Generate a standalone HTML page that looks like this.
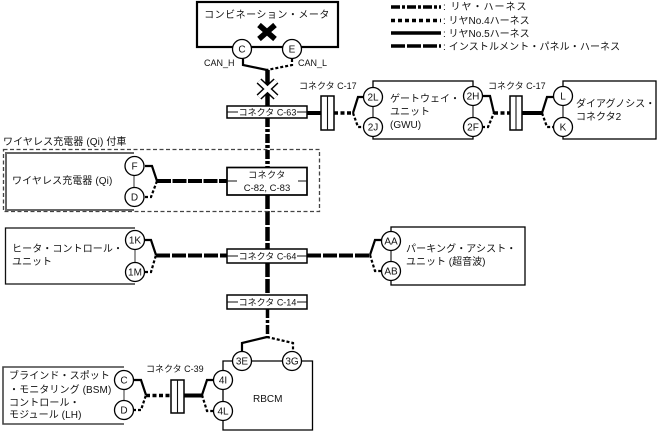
<!DOCTYPE html>
<html><head><meta charset="utf-8"><style>
html,body{margin:0;padding:0;background:#fff}
svg{display:block}
text{font-family:"Liberation Sans","Noto Sans CJK JP",sans-serif;font-size:10px;fill:#111}
.m{text-anchor:middle}
.s{font-size:9px}
.c{fill:#fff;stroke:#000;stroke-width:1.300}
.b{fill:#fff;stroke:#000;stroke-width:1.500}
.t{fill:none;stroke:#000;stroke-width:2.200}
.d{fill:none;stroke:#000;stroke-width:2.200;stroke-dasharray:3 2}
.g{stroke:#111;stroke-width:1.100;fill:none}
</style></head><body>
<svg width="658" height="432" viewBox="0 0 658 432" xmlns="http://www.w3.org/2000/svg">
<!-- legend -->
<g fill="none" stroke="#000" stroke-width="3.500">
<path d="M391 7H441" stroke-dasharray="9 2 3 2"/>
<path d="M391 20.500H441" stroke-dasharray="4 3"/>
<path d="M391 33H441"/>
<path d="M391 46H441" stroke-dasharray="14 2"/>
</g>
<text x="443" y="10" letter-spacing="1">: リヤ・ハーネス</text>
<text x="443" y="24">: リヤNo.4ハーネス</text>
<text x="443" y="37">: リヤNo.5ハーネス</text>
<text x="443" y="50" letter-spacing="0.100">: インストルメント・パネル・ハーネス</text>

<!-- meter -->
<rect x="197" y="2" width="141" height="45" fill="#fff" stroke="#000" stroke-width="2.200"/>
<text x="267" y="18" class="m" letter-spacing="0.500">コンビネーション・メータ</text>
<path d="M259 25L275 39M275 25L259 39" stroke="#000" stroke-width="5.500" fill="none"/>
<path class="t" d="M243 59L243 65L267 70"/>
<path class="d" d="M292 59L292 65L267 70"/>
<circle class="c" cx="242" cy="49" r="9.500"/><text x="242" y="52.500" class="m">C</text>
<circle class="c" cx="292" cy="49" r="9.500"/><text x="292" y="52.500" class="m">E</text>
<text x="204" y="66" class="s">CAN_H</text><text x="298" y="66" class="s">CAN_L</text>

<!-- main vertical -->
<path d="M267.500 70V106" stroke="#000" stroke-width="4.500" fill="none"/>
<path d="M267.500 118V168" stroke="#000" stroke-width="4.500" stroke-dasharray="9 2 3 2" fill="none"/>
<path d="M267.500 195V249" stroke="#000" stroke-width="4.500" stroke-dasharray="14 2" fill="none"/>
<path d="M267.500 263V295" stroke="#000" stroke-width="4.500" stroke-dasharray="14 2" fill="none"/>
<path d="M267.500 309V337" stroke="#000" stroke-width="3.500" stroke-dasharray="9 2 3 2" fill="none"/>
<path d="M259 81L276 97M276 81L259 97" stroke="#000" stroke-width="7" fill="none"/>
<path d="M259 81L276 97M276 81L259 97" stroke="#fff" stroke-width="4" fill="none"/>

<!-- C-63 -->
<rect class="b" x="227" y="106" width="80" height="12"/>
<path class="g" d="M227 112H238M297 112H307"/>
<text x="267.500" y="115.500" class="m s">コネクタ C-63</text>
<path d="M307 113H321" stroke="#000" stroke-width="4" fill="none"/>
<rect class="b" x="321" y="96" width="13" height="34"/><path class="g" d="M327.500 96V130"/>
<path d="M334 113H353" stroke="#000" stroke-width="3.500" stroke-dasharray="4 2.500" fill="none"/>
<text x="299" y="89" class="s">コネクタ C-17</text>
<path class="t" d="M353 113L358 97H364"/>
<path class="d" d="M353 113L358 127H364"/>

<!-- gateway -->
<rect x="373" y="81" width="100" height="58" fill="#fff" stroke="#000" stroke-width="1.300"/>
<path d="M373 96V127M473 96V127" stroke="#555" stroke-width="1.200"/>
<circle class="c" cx="373" cy="97" r="9.500"/><text x="373" y="100.500" class="m">2L</text>
<circle class="c" cx="373" cy="127" r="9.500"/><text x="373" y="130.500" class="m">2J</text>
<circle class="c" cx="473" cy="96" r="9.500"/><text x="473" y="99.500" class="m">2H</text>
<circle class="c" cx="473" cy="127" r="9.500"/><text x="473" y="130.500" class="m">2F</text>
<text x="390" y="102">ゲートウェイ・</text><text x="390" y="115">ユニット</text><text x="390" y="128">(GWU)</text>
<path class="t" d="M482 96H490L494 113"/>
<path class="d" d="M482 127H488L494 113"/>
<path d="M494 113H510" stroke="#000" stroke-width="3.500" stroke-dasharray="4 2.500" fill="none"/>
<text x="488" y="89" class="s">コネクタ C-17</text>
<rect class="b" x="510" y="96" width="12" height="34"/><path class="g" d="M516 96V130"/>
<path d="M522 113H542" stroke="#000" stroke-width="4" fill="none"/>
<path class="t" d="M542 113L547 97H554"/>
<path class="d" d="M542 113L547 127H554"/>

<!-- diag -->
<rect x="563" y="81" width="93" height="58" fill="#fff" stroke="#000" stroke-width="1.300"/>
<path d="M563 96V127" stroke="#555" stroke-width="1.200"/>
<circle class="c" cx="563" cy="96" r="9.500"/><text x="563" y="99.500" class="m">L</text>
<circle class="c" cx="563" cy="127" r="9.500"/><text x="563" y="130.500" class="m">K</text>
<text x="576" y="107">ダイアグノシス・</text><text x="576" y="120">コネクタ2</text>

<!-- wireless -->
<text x="3" y="145" letter-spacing="0.100">ワイヤレス充電器 (Qi) 付車</text>
<rect x="3.500" y="149.500" width="316" height="62" fill="none" stroke="#444" stroke-width="1.300" stroke-dasharray="4 2.500"/>
<path d="M134 153H6V210H134" fill="none" stroke="#666" stroke-width="2"/>
<path d="M134 166V197" stroke="#555" stroke-width="1.200"/>
<text x="12" y="184" letter-spacing="0.100">ワイヤレス充電器 (Qi)</text>
<circle class="c" cx="134.500" cy="166" r="9.500"/><text x="134.500" y="169.500" class="m">F</text>
<circle class="c" cx="134.500" cy="197" r="9.500"/><text x="134.500" y="200.500" class="m">D</text>
<path class="t" d="M145 166H152L157 181"/>
<path class="d" d="M145 197H151L157 181"/>
<path d="M157 181H227" stroke="#000" stroke-width="4" stroke-dasharray="14 1.500" fill="none"/>
<rect x="227" y="167.500" width="80" height="27.500" fill="#fff" stroke="#000" stroke-width="1.700"/>
<path class="g" d="M227 181H237M298 181H307"/>
<text x="267" y="178" class="m s" letter-spacing="0.500">コネクタ</text>
<text x="267" y="191" class="m" style="font-size:9.500px">C-82, C-83</text>

<!-- heater -->
<path d="M135 228H5.500V284H135" fill="none" stroke="#111" stroke-width="1.300"/>
<path d="M135 240V272" stroke="#555" stroke-width="1.200"/>
<text x="12" y="252" letter-spacing="0.100">ヒータ・コントロール・</text><text x="12" y="265">ユニット</text>
<circle class="c" cx="135" cy="240" r="9.500"/><text x="135" y="243.500" class="m">1K</text>
<circle class="c" cx="135" cy="272" r="9.500"/><text x="135" y="275.500" class="m">1M</text>
<path class="t" d="M145 240H151L156 255"/>
<path class="d" d="M145 272H151L156 255"/>
<path d="M156 255.500H227" stroke="#000" stroke-width="4" stroke-dasharray="14 2" fill="none"/>
<rect class="b" x="227" y="249" width="80" height="14"/>
<path class="g" d="M227 256H238M297 256H307"/>
<text x="267.500" y="259.500" class="m s">コネクタ C-64</text>
<path d="M307 255.500H370" stroke="#000" stroke-width="4" stroke-dasharray="14 2" fill="none"/>
<path class="t" d="M370 255L375 240H382"/>
<path class="d" d="M370 255L375 271H382"/>

<!-- parking -->
<rect x="391" y="227" width="134" height="58" fill="#fff" stroke="#000" stroke-width="1.300"/>
<path d="M391 241V271" stroke="#555" stroke-width="1.200"/>
<circle class="c" cx="391" cy="241" r="9.500"/><text x="391" y="244.500" class="m">AA</text>
<circle class="c" cx="391" cy="271" r="9.500"/><text x="391" y="274.500" class="m">AB</text>
<text x="406" y="252" letter-spacing="0.100">パーキング・アシスト・</text><text x="406" y="265">ユニット (超音波)</text>

<!-- C-14 -->
<rect class="b" x="227" y="295" width="80" height="14"/>
<path class="g" d="M227 302H238M297 302H307"/>
<text x="267.500" y="305.500" class="m s">コネクタ C-14</text>
<path class="t" d="M267 337L242 343V351"/>
<path class="d" d="M267 337L293 343V351"/>

<!-- RBCM -->
<path d="M223 361H312.500V430H223Z" fill="#fff" stroke="#000" stroke-width="1.300"/>
<text x="253" y="402">RBCM</text>
<circle class="c" cx="242" cy="361" r="9.500"/><text x="242" y="364.500" class="m">3E</text>
<circle class="c" cx="292" cy="361" r="9.500"/><text x="292" y="364.500" class="m">3G</text>
<circle class="c" cx="223" cy="380" r="9.500"/><text x="223" y="383.500" class="m">4I</text>
<circle class="c" cx="223" cy="411" r="9.500"/><text x="223" y="414.500" class="m">4L</text>

<!-- BSM -->
<path d="M124 367H3V424H124" fill="none" stroke="#444" stroke-width="1.600"/>
<path d="M124 380V410" stroke="#555" stroke-width="1.200"/>
<text x="9" y="379" letter-spacing="0.100">ブラインド・スポット</text>
<text x="9" y="393" letter-spacing="0.100">・モニタリング (BSM)</text>
<text x="9" y="406" letter-spacing="0.100">コントロール・</text>
<text x="9" y="418" letter-spacing="0.100">モジュール (LH)</text>
<circle class="c" cx="124" cy="380" r="9.500"/><text x="124" y="383.500" class="m">C</text>
<circle class="c" cx="124" cy="410" r="9.500"/><text x="124" y="413.500" class="m">D</text>
<path class="t" d="M133 380H141L146 395"/>
<path class="d" d="M133 410H141L146 395"/>
<path d="M146 395.500H171" stroke="#000" stroke-width="3.500" stroke-dasharray="4 2.500" fill="none"/>
<text x="146" y="372" class="s">コネクタ C-39</text>
<rect class="b" x="171" y="380" width="13" height="33"/><path class="g" d="M177.500 380V413"/>
<path d="M184 395.500H202" stroke="#000" stroke-width="4" fill="none"/>
<path class="t" d="M202 395L207 380H214"/>
<path class="d" d="M202 395L207 411H214"/>
</svg>
</body></html>
